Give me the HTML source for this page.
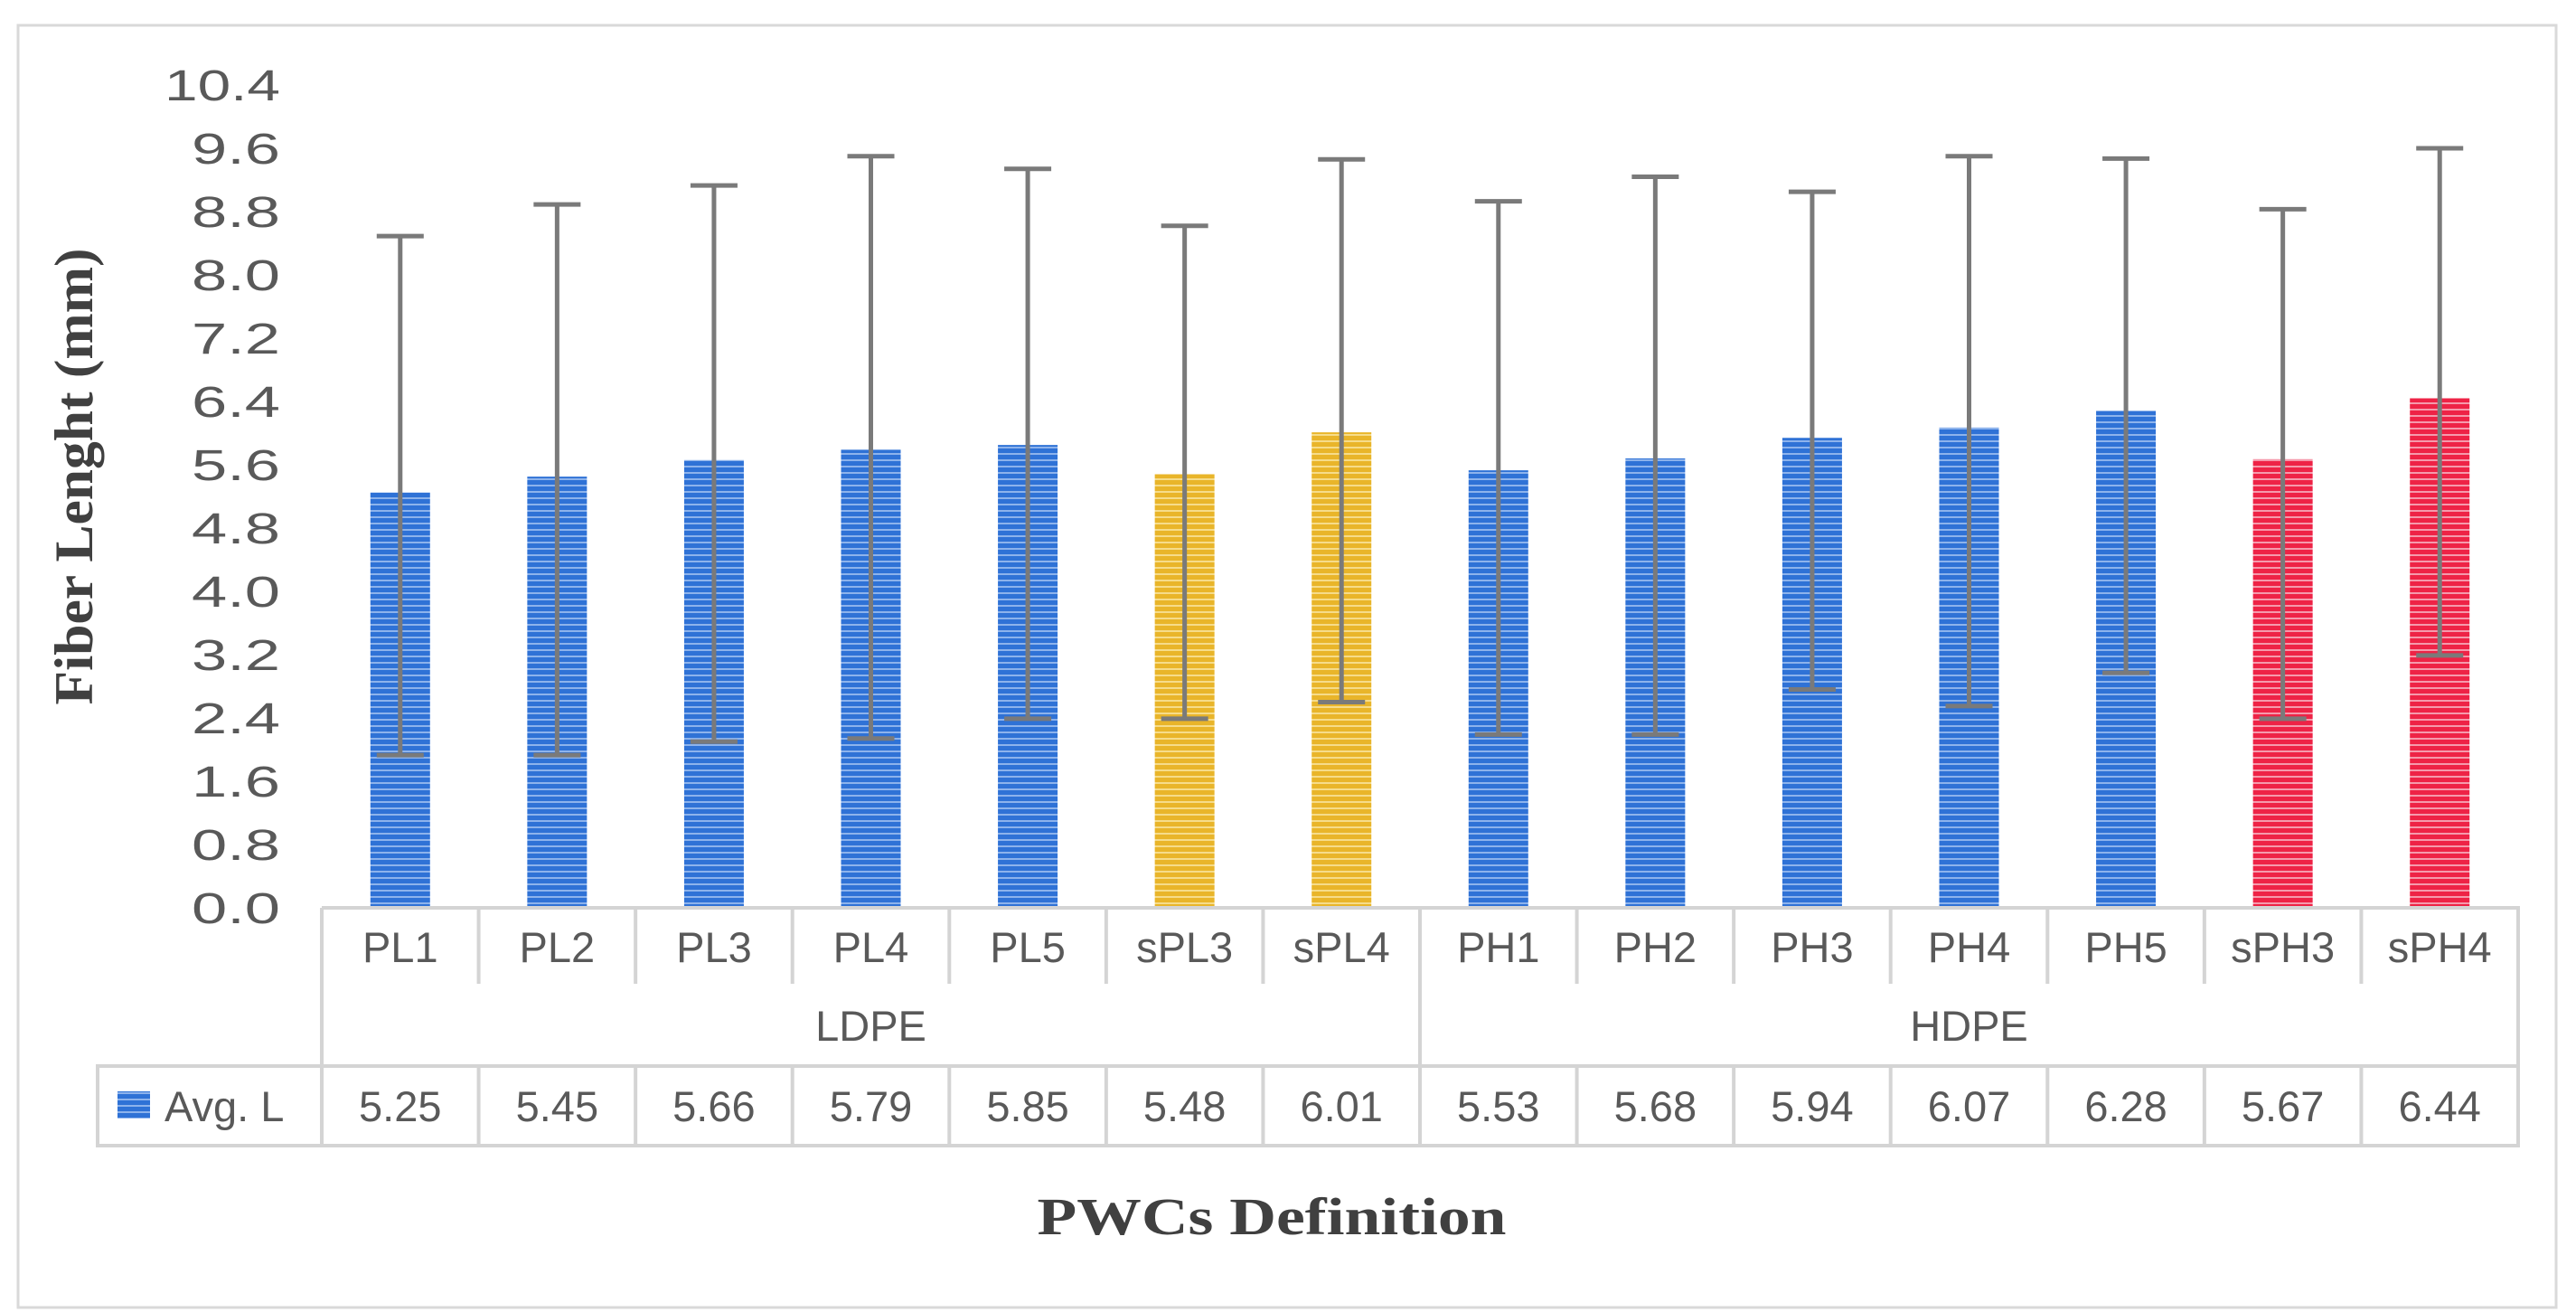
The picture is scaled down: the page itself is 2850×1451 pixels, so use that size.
<!DOCTYPE html>
<html><head><meta charset="utf-8"><style>
html,body{margin:0;padding:0;background:#fff;}
svg{display:block;}
</style></head><body>
<svg id="chart" width="2850" height="1451" viewBox="0 0 2850 1451" xmlns="http://www.w3.org/2000/svg">
<defs>
<pattern id="pBlue" width="10" height="7" patternUnits="userSpaceOnUse"><rect width="10" height="7" fill="#2f72d6"/><rect y="4" width="10" height="2" fill="#8db3ec"/></pattern>
<pattern id="pYellow" width="10" height="7" patternUnits="userSpaceOnUse"><rect width="10" height="7" fill="#e9b52a"/><rect y="4" width="10" height="2" fill="#f6dc8a"/></pattern>
<pattern id="pRed" width="10" height="7" patternUnits="userSpaceOnUse"><rect width="10" height="7" fill="#ee2346"/><rect y="4" width="10" height="2" fill="#f59aac"/></pattern>
</defs>
<rect x="20" y="28" width="2808" height="1418" fill="#fff" stroke="#d9d9d9" stroke-width="3"/>
<g id="plot"></g>
<text transform="translate(102,527) rotate(-90)" text-anchor="middle" font-family="Liberation Serif, serif" font-weight="bold" font-size="60" fill="#404040" textLength="505" lengthAdjust="spacingAndGlyphs">Fiber Lenght (mm)</text>
<text x="1407" y="1365" text-anchor="middle" font-family="Liberation Serif, serif" font-weight="bold" font-size="58" fill="#404040" textLength="519" lengthAdjust="spacingAndGlyphs">PWCs Definition</text>
</svg>
<script>
const categories = ["PL1","PL2","PL3","PL4","PL5","sPL3","sPL4","PH1","PH2","PH3","PH4","PH5","sPH3","sPH4"];
const avgValues = [5.25,5.45,5.66,5.79,5.85,5.48,6.01,5.53,5.68,5.94,6.07,6.28,5.67,6.44];
const errUpper = [8.49,8.89,9.13,9.50,9.34,8.62,9.46,8.93,9.24,9.05,9.50,9.47,8.83,9.60];
const errLower = [1.93,1.93,2.10,2.14,2.39,2.39,2.60,2.19,2.19,2.76,2.55,2.97,2.39,3.19];
const barFills = ["blue","blue","blue","blue","blue","yellow","yellow","blue","blue","blue","blue","blue","red","red"];
const groups = ["LDPE","HDPE"];
const groupSizes = [7,7];
const yTicks = [0,0.8,1.6,2.4,3.2,4.0,4.8,5.6,6.4,7.2,8.0,8.8,9.6,10.4];

const NS = "http://www.w3.org/2000/svg";
const g = document.getElementById('plot');
const tableLeft = 356, tableRight = 2786, legendLeft = 108;
const top0 = 1004, catBottom = 1088, valTop = 1179, valBottom = 1267;
const colW = (tableRight - tableLeft) / categories.length;
const yZero = 1004, yMax = 10.4, yTopPx = 94;
function yScale(v){ return yZero - (v / yMax) * (yZero - yTopPx); }
function xCenter(i){ return tableLeft + colW * (i + 0.5); }
const fillMap = {blue:"url(#pBlue)", yellow:"url(#pYellow)", red:"url(#pRed)"};
function mk(tag, attrs){ const e = document.createElementNS(NS, tag); for (const k in attrs) e.setAttribute(k, attrs[k]); g.appendChild(e); return e; }
const font = "Liberation Sans, sans-serif";

yTicks.forEach((t) => {
  const e = mk('text', {x: 310, y: yScale(t) + 17, 'text-anchor': 'end', 'font-family': font, 'font-size': 48, fill: '#595959', textLength: 128, lengthAdjust: 'spacingAndGlyphs'});
  if (t.toFixed(1).length < 4) e.setAttribute('textLength', 98);
  
  
  e.textContent = t.toFixed(1);
});

categories.forEach((c, i) => {
  const bw = 66;
  const r = mk('rect', {x: xCenter(i) - bw/2, y: yScale(avgValues[i]), width: bw, height: yZero - yScale(avgValues[i]), fill: fillMap[barFills[i]]});
  
  
  const eb = mk('path', {d: `M${xCenter(i)},${yScale(errUpper[i])}V${yScale(errLower[i])}M${xCenter(i)-26},${yScale(errUpper[i])}h52M${xCenter(i)-26},${yScale(errLower[i])}h52`, stroke: '#7a7a7a', 'stroke-width': 5, fill: 'none'});
  
  
});

const gs = '#d4d4d4';
const grid = mk('path', {stroke: gs, 'stroke-width': 4, fill: 'none', d: ''});


let d = `M${tableLeft},${top0}H${tableRight}V${valBottom}H${legendLeft}V${valTop}H${tableRight}M${tableLeft},${top0}V${valBottom}`;
let acc = 0;
groupSizes.forEach((n) => { acc += n; if (acc < categories.length) { const x = tableLeft + colW*acc; d += `M${x},${top0}V${valBottom}`; } });
for (let i = 1; i < categories.length; i++) {
  const x = tableLeft + colW*i;
  d += `M${x},${top0}V${catBottom}M${x},${valTop}V${valBottom}`;
}
grid.setAttribute('d', d);

categories.forEach((c, i) => {
  const t = mk('text', {x: xCenter(i), y: 1064, 'text-anchor': 'middle', 'font-family': font, 'font-size': 47, fill: '#595959'});
  
  
  t.textContent = c;
  const v = mk('text', {x: xCenter(i), y: 1240, 'text-anchor': 'middle', 'font-family': font, 'font-size': 47, fill: '#595959'});
  
  
  v.textContent = avgValues[i].toFixed(2);
});

let start = 0;
groups.forEach((gname, gi) => {
  const cx = tableLeft + colW*(start + groupSizes[gi]/2);
  const t = mk('text', {x: cx, y: 1151, 'text-anchor': 'middle', 'font-family': font, 'font-size': 47, fill: '#595959'});
  
  
  t.textContent = gname;
  start += groupSizes[gi];
});

const lk = mk('rect', {x: 130, y: 1207, width: 36, height: 30, fill: 'url(#pBlue)'});


const lt = mk('text', {x: 182, y: 1240, 'font-family': font, 'font-size': 47, fill: '#595959'});


lt.textContent = 'Avg. L';
</script>
</body></html>
